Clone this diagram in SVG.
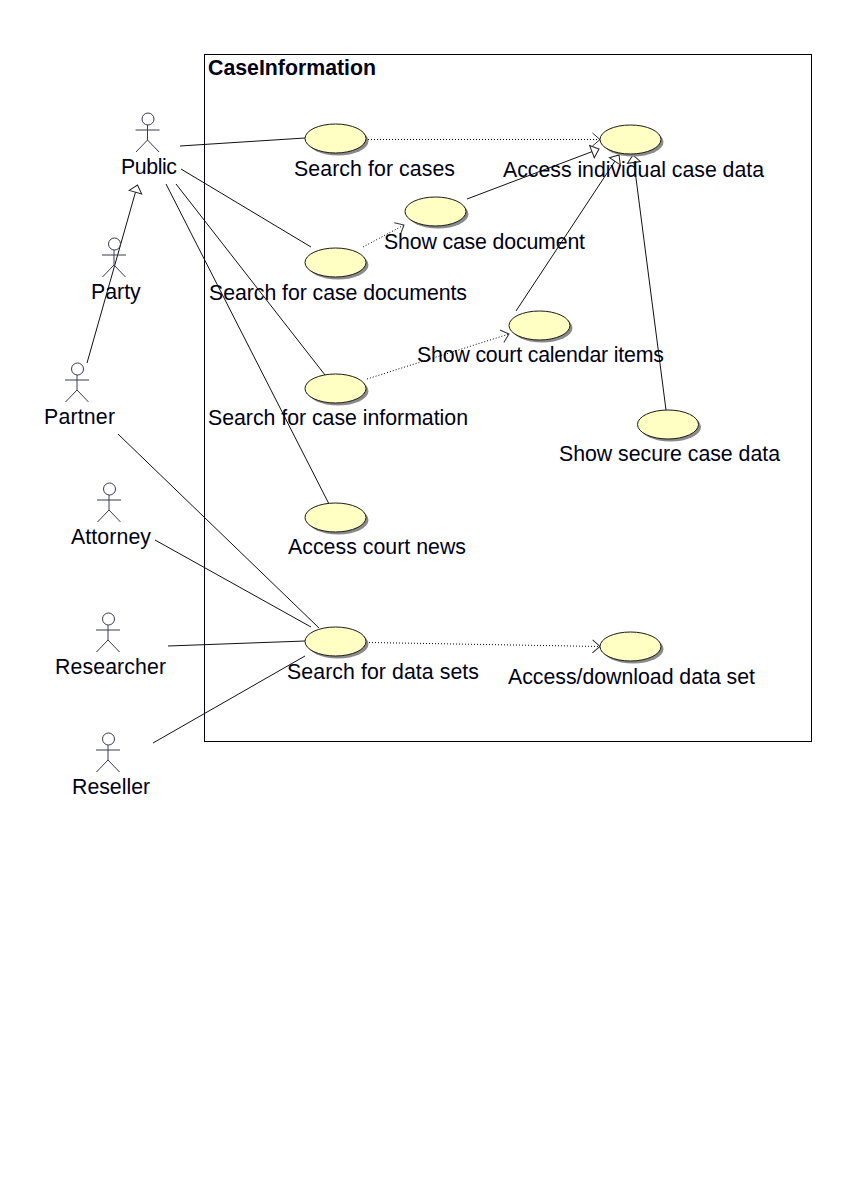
<svg xmlns="http://www.w3.org/2000/svg" width="856" height="1202" viewBox="0 0 856 1202">
<defs>
<g id="actor" fill="none" stroke="#3a3a50" stroke-width="1">
<circle cx="0.5" cy="-27" r="6"/>
<path d="M0,-21V-6M-12,-16H12M0,-6L-11.500,6M0,-6L11.500,6"/>
</g>
<g id="uc">
<ellipse cx="2.5" cy="2.5" rx="30.5" ry="14.5" fill="#8a8a8a"/>
<ellipse cx="0" cy="0" rx="30.5" ry="14.5" fill="#ffffc4" stroke="#1a1a1a" stroke-width="1"/>
</g>
<marker id="open" markerUnits="userSpaceOnUse" markerWidth="16" markerHeight="16" refX="13" refY="8" orient="auto" viewBox="0 0 16 16">
<path d="M5.500,1.500L13,8L5.500,14.500" fill="none" stroke="#333" stroke-width="1"/>
</marker>
<marker id="tri" markerUnits="userSpaceOnUse" markerWidth="16" markerHeight="16" refX="13" refY="8" orient="auto" viewBox="0 0 16 16">
<path d="M5.500,1.500L13,8L5.500,14.500Z" fill="#fff" stroke="#222" stroke-width="1"/>
</marker>
</defs>
<style>
text{font-family:"Liberation Sans",Arial,sans-serif;font-size:21.3px;fill:#000014}
.t{font-weight:bold}
.c{fill:none;stroke:#111;stroke-width:1}
.d{fill:none;stroke:#000;stroke-width:1;stroke-dasharray:1 2;marker-end:url(#open)}
.g{fill:none;stroke:#111;stroke-width:1;marker-end:url(#tri)}
</style>
<rect width="856" height="1202" fill="#fff"/>
<g id="boundary">
<rect x="204.500" y="54.500" width="607" height="687" fill="none" stroke="#000014" stroke-width="1"/>
<text class="t" x="208" y="75">CaseInformation</text>
</g>
<g id="connectors">
<path class="c" d="M180,146L305,138"/>
<path class="c" d="M181,169L311,247"/>
<path class="c" d="M176,184L325,375"/>
<path class="c" d="M166,184L329,504"/>
<path class="c" d="M118,434L319,628"/>
<path class="c" d="M155,540L311,627"/>
<path class="c" d="M168,646L305,641"/>
<path class="c" d="M153,743L305,656"/>
<path class="g" d="M87,363L137.500,185"/>
<path class="d" d="M368,139.500L600,139.500"/>
<path class="d" d="M363,247L404,225"/>
<path class="d" d="M367,379L509,334"/>
<path class="d" d="M369,642.500L600,646.500"/>
<path class="g" d="M467,199L599,149"/>
<path class="g" d="M516,311L619,155"/>
<path class="g" d="M666,410L633,155"/>
</g>
<g id="actor-public"><use href="#actor" x="147.500" y="146"/><text x="121" y="174" textLength="56">Public</text></g>
<g id="actor-party"><use href="#actor" x="114" y="271"/><text x="91" y="299">Party</text></g>
<g id="actor-partner"><use href="#actor" x="77" y="396"/><text x="44" y="424" textLength="71">Partner</text></g>
<g id="actor-attorney"><use href="#actor" x="109" y="516"/><text x="71" y="544" textLength="80">Attorney</text></g>
<g id="actor-researcher"><use href="#actor" x="108" y="646"/><text x="55" y="674" textLength="111">Researcher</text></g>
<g id="actor-reseller"><use href="#actor" x="108" y="766"/><text x="72" y="794">Reseller</text></g>
<g id="uc-search-cases"><use href="#uc" x="335.500" y="138.500"/><text x="294" y="176" textLength="161">Search for cases</text></g>
<g id="uc-access-individual"><use href="#uc" x="630.500" y="139.500"/><text x="503" y="177" textLength="261">Access individual case data</text></g>
<g id="uc-show-document"><use href="#uc" x="435.500" y="211.500"/><text x="384" y="249" textLength="201">Show case document</text></g>
<g id="uc-search-documents"><use href="#uc" x="335.500" y="262.500"/><text x="209" y="300" textLength="258">Search for case documents</text></g>
<g id="uc-show-calendar"><use href="#uc" x="539.500" y="325.500"/><text x="417" y="362" textLength="247">Show court calendar items</text></g>
<g id="uc-search-information"><use href="#uc" x="335.500" y="388.500"/><text x="208" y="425" textLength="260">Search for case information</text></g>
<g id="uc-show-secure"><use href="#uc" x="668" y="424.500"/><text x="559" y="461" textLength="221">Show secure case data</text></g>
<g id="uc-court-news"><use href="#uc" x="335.500" y="517.500"/><text x="288" y="554" textLength="178">Access court news</text></g>
<g id="uc-search-datasets"><use href="#uc" x="335.500" y="641.500"/><text x="287" y="679" textLength="192">Search for data sets</text></g>
<g id="uc-access-dataset"><use href="#uc" x="630.500" y="646.500"/><text x="508" y="684" textLength="247">Access/download data set</text></g>
</svg>
